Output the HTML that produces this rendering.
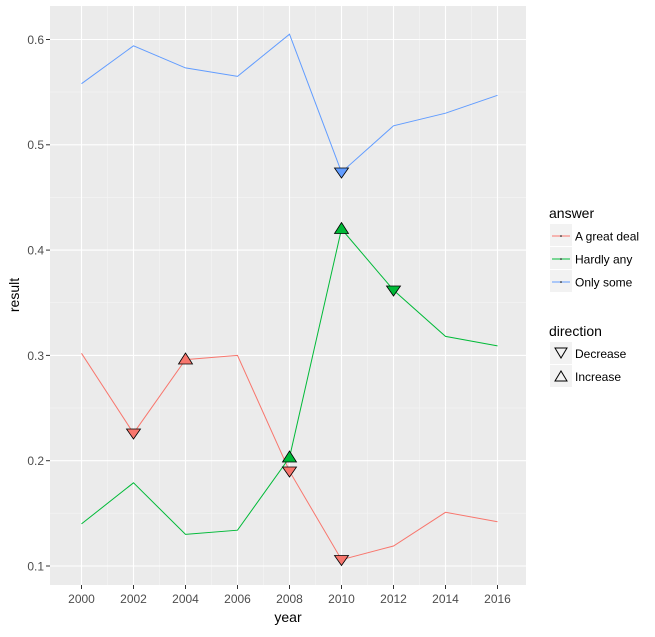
<!DOCTYPE html><html><head><style>body{margin:0;background:#fff}svg text{font-family:"Liberation Sans",Arial,sans-serif}</style></head><body>
<svg width="655" height="632" xmlns="http://www.w3.org/2000/svg">
<rect x="50" y="6" width="476" height="579" fill="#ebebeb"/>
<g stroke="#f5f5f5" stroke-width="0.6">
<line x1="50" x2="526" y1="92" y2="92"/><line x1="50" x2="526" y1="197.3" y2="197.3"/><line x1="50" x2="526" y1="302.6" y2="302.6"/><line x1="50" x2="526" y1="407.9" y2="407.9"/><line x1="50" x2="526" y1="513.2" y2="513.2"/>
<line y1="6" y2="585" x1="107.5" x2="107.5"/><line y1="6" y2="585" x1="159.5" x2="159.5"/><line y1="6" y2="585" x1="211.5" x2="211.5"/><line y1="6" y2="585" x1="263.5" x2="263.5"/><line y1="6" y2="585" x1="315.5" x2="315.5"/><line y1="6" y2="585" x1="367.5" x2="367.5"/><line y1="6" y2="585" x1="419.5" x2="419.5"/><line y1="6" y2="585" x1="471.5" x2="471.5"/>
</g>
<g stroke="#fff" stroke-width="1.1">
<line x1="50" x2="526" y1="39.5" y2="39.5"/><line x1="50" x2="526" y1="144.8" y2="144.8"/><line x1="50" x2="526" y1="250.1" y2="250.1"/><line x1="50" x2="526" y1="355.4" y2="355.4"/><line x1="50" x2="526" y1="460.7" y2="460.7"/><line x1="50" x2="526" y1="566" y2="566"/>
<line y1="6" y2="585" x1="81.5" x2="81.5"/><line y1="6" y2="585" x1="133.5" x2="133.5"/><line y1="6" y2="585" x1="185.5" x2="185.5"/><line y1="6" y2="585" x1="237.5" x2="237.5"/><line y1="6" y2="585" x1="289.5" x2="289.5"/><line y1="6" y2="585" x1="341.5" x2="341.5"/><line y1="6" y2="585" x1="393.5" x2="393.5"/><line y1="6" y2="585" x1="445.5" x2="445.5"/><line y1="6" y2="585" x1="497.5" x2="497.5"/>
</g>
<g fill="none" stroke-width="1">
<polyline stroke="#619CFF" points="81.5,83.7 133.5,45.8 185.5,67.9 237.5,76.4 289.5,34.2 341.5,172.2 393.5,125.8 445.5,113.2 497.5,95.3"/>
<polyline stroke="#F8766D" points="81.5,353.3 133.5,433.3 185.5,359.6 237.5,355.4 289.5,471.2 341.5,559.7 393.5,546 445.5,512.3 497.5,521.8"/>
<polyline stroke="#00BA38" points="81.5,523.9 133.5,482.8 185.5,534.4 237.5,530.2 289.5,457.5 341.5,229 393.5,290.1 445.5,336.4 497.5,345.9"/>
</g>
<g stroke="#000" stroke-width="0.8">
<polygon fill="#F8766D" points="126.5,429 140.5,429 133.5,439"/>
<polygon fill="#F8766D" points="178.5,364 192.5,364 185.5,353"/>
<polygon fill="#F8766D" points="282.5,467 296.5,467 289.5,477"/>
<polygon fill="#F8766D" points="334.5,555.5 348.5,555.5 341.5,565.5"/>
<polygon fill="#00BA38" points="282.5,462 296.5,462 289.5,451"/>
<polygon fill="#00BA38" points="334.5,233.5 348.5,233.5 341.5,222.5"/>
<polygon fill="#00BA38" points="386.5,286 400.5,286 393.5,296"/>
<polygon fill="#619CFF" points="334.5,168 348.5,168 341.5,178"/>
</g>
<g stroke="#333" stroke-width="1">
<line x1="46" x2="50" y1="39.5" y2="39.5"/><line x1="46" x2="50" y1="144.8" y2="144.8"/><line x1="46" x2="50" y1="250.1" y2="250.1"/><line x1="46" x2="50" y1="355.4" y2="355.4"/><line x1="46" x2="50" y1="460.7" y2="460.7"/><line x1="46" x2="50" y1="566" y2="566"/>
<line y1="585" y2="589" x1="81.5" x2="81.5"/><line y1="585" y2="589" x1="133.5" x2="133.5"/><line y1="585" y2="589" x1="185.5" x2="185.5"/><line y1="585" y2="589" x1="237.5" x2="237.5"/><line y1="585" y2="589" x1="289.5" x2="289.5"/><line y1="585" y2="589" x1="341.5" x2="341.5"/><line y1="585" y2="589" x1="393.5" x2="393.5"/><line y1="585" y2="589" x1="445.5" x2="445.5"/><line y1="585" y2="589" x1="497.5" x2="497.5"/>
</g>
<g fill="#4d4d4d" font-size="12" text-anchor="end">
<text x="44" y="44">0.6</text><text x="44" y="149">0.5</text><text x="44" y="254.5">0.4</text><text x="44" y="360">0.3</text><text x="44" y="465">0.2</text><text x="44" y="570.5">0.1</text>
</g>
<g fill="#4d4d4d" font-size="12" text-anchor="middle">
<text x="81.5" y="603">2000</text><text x="133.5" y="603">2002</text><text x="185.5" y="603">2004</text><text x="237.5" y="603">2006</text><text x="289.5" y="603">2008</text><text x="341.5" y="603">2010</text><text x="393.5" y="603">2012</text><text x="445.5" y="603">2014</text><text x="497.5" y="603">2016</text>
</g>
<text x="288" y="622" font-size="14" text-anchor="middle">year</text>
<text transform="translate(19,295) rotate(-90)" font-size="14" text-anchor="middle">result</text>
<text x="549" y="218" font-size="14">answer</text>
<rect x="550" y="224" width="22" height="22" fill="#f2f2f2"/><rect x="550" y="247" width="22" height="22" fill="#f2f2f2"/><rect x="550" y="270" width="22" height="22" fill="#f2f2f2"/>
<line x1="552" x2="570" y1="236" y2="236" stroke="#F8766D"/><line x1="552" x2="570" y1="259" y2="259" stroke="#00BA38"/><line x1="552" x2="570" y1="282" y2="282" stroke="#619CFF"/>
<circle cx="561" cy="236" r="0.8"/><circle cx="561" cy="259" r="0.8"/><circle cx="561" cy="282" r="0.8"/>
<g font-size="12"><text x="575" y="240.5">A great deal</text><text x="575" y="263.5">Hardly any</text><text x="575" y="286.5">Only some</text></g>
<text x="549" y="336" font-size="14">direction</text>
<rect x="550" y="342" width="22" height="22" fill="#f2f2f2"/><rect x="550" y="365" width="22" height="22" fill="#f2f2f2"/>
<polygon fill="none" stroke="#000" points="555,348 567,348 561,358"/>
<polygon fill="none" stroke="#000" points="555,381 567,381 561,371"/>
<g font-size="12"><text x="575" y="358">Decrease</text><text x="575" y="381">Increase</text></g>
</svg></body></html>
